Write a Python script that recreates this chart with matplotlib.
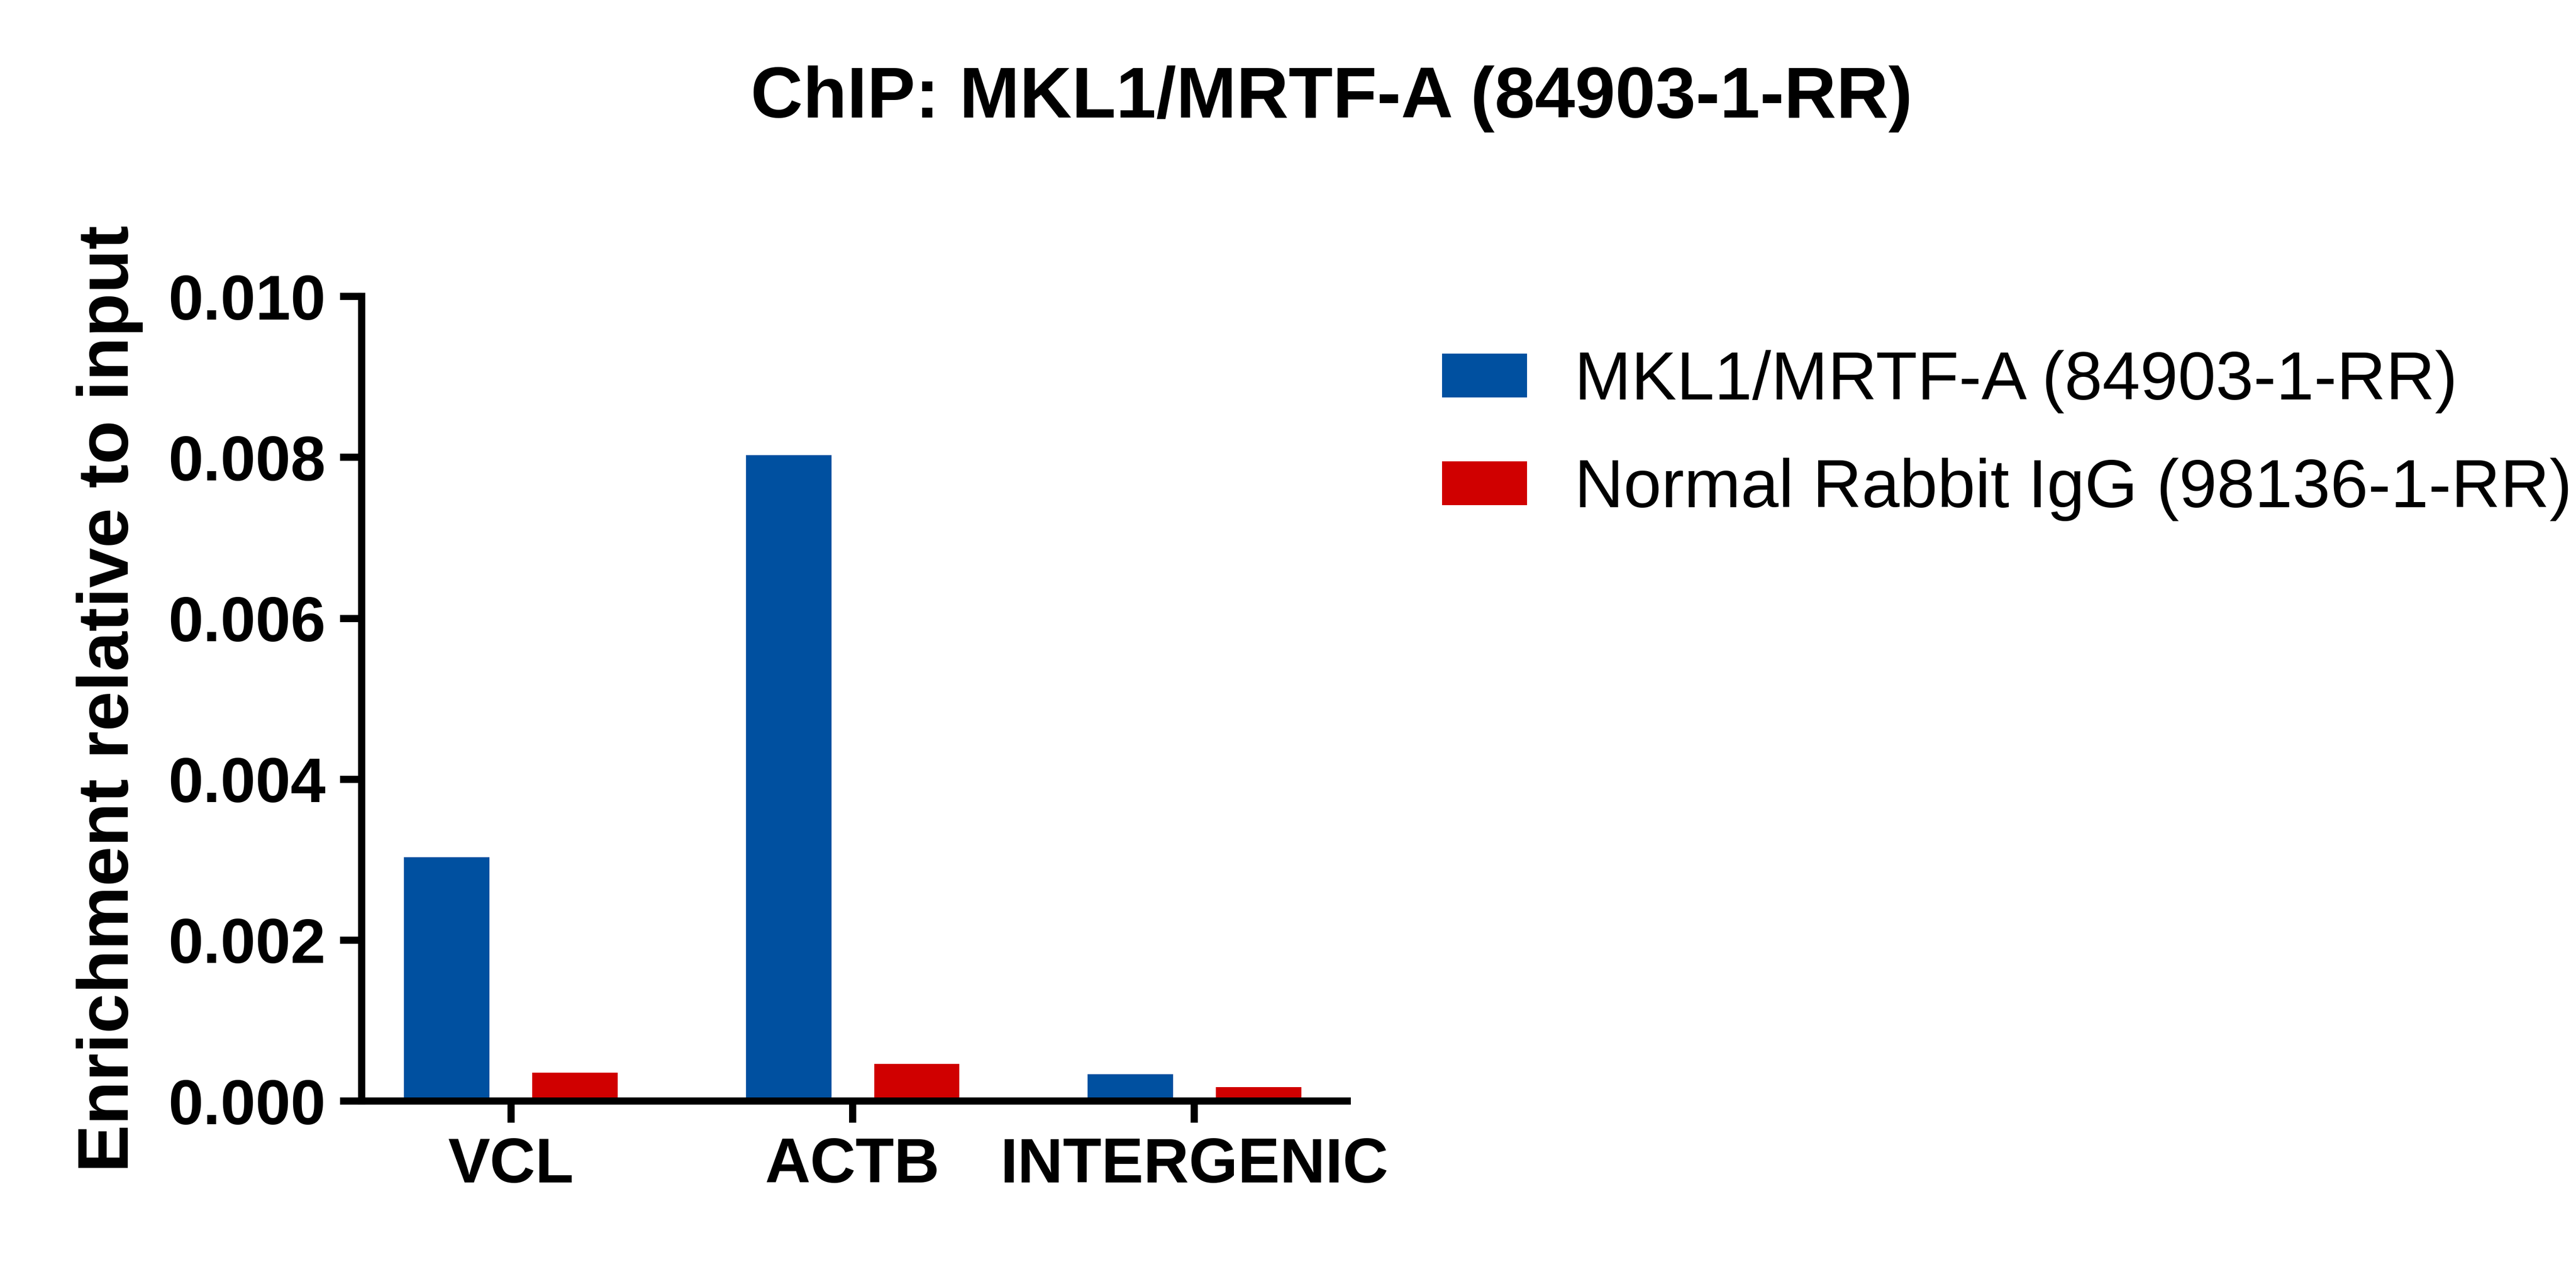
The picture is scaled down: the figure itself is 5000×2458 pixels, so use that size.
import matplotlib
matplotlib.use("Agg")
import matplotlib.pyplot as plt
import numpy as np

categories = ["VCL", "ACTB", "INTERGENIC"]
mkl1 = [0.00303, 0.00803, 0.00033]
igg = [0.00035, 0.00046, 0.00017]
series_names = ["MKL1/MRTF-A (84903-1-RR)", "Normal Rabbit IgG (98136-1-RR)"]
yticks = [0.000, 0.002, 0.004, 0.006, 0.008, 0.010]

plt.rcParams['font.family'] = ['Liberation Sans', 'DejaVu Sans']
fig = plt.figure(figsize=(50, 24.58), dpi=100)
ax = fig.add_axes([0.1403, 0.131, 0.3827, 0.635])
x = np.arange(len(categories))
w = 0.25
b1 = ax.bar(x - 0.1875, mkl1, w, color="#0050A0", label=series_names[0])
b2 = ax.bar(x + 0.1875, igg, w, color="#D00000", label=series_names[1])
ax.set_xlim(-0.4375, 2.447)
ax.set_ylim(0, 0.010)
ax.set_yticks(yticks)
ax.set_yticklabels([f"{v:.3f}" for v in yticks])
ax.set_xticks(x)
ax.set_xticklabels(categories)
for s in ["top", "right"]:
    ax.spines[s].set_visible(False)
for s in ["left", "bottom"]:
    ax.spines[s].set_linewidth(10)
ax.tick_params(width=10, length=30, labelsize=88, pad=20)
for lab in ax.get_xticklabels() + ax.get_yticklabels():
    lab.set_fontweight("bold")
ax.set_ylabel("Enrichment relative to input", fontsize=100, fontweight="bold", labelpad=35)
fig.text(0.517, 0.922, "ChIP: MKL1/MRTF-A (84903-1-RR)", fontsize=101, fontweight="bold", ha="center", va="center")
fig.legend(handles=[b1, b2], loc="upper left", bbox_to_anchor=(0.536, 0.772), frameon=False,
           fontsize=95, handlelength=1.25, handleheight=0.62, handletextpad=0.7, labelspacing=0.65)
fig.savefig("out.png", dpi=100)
